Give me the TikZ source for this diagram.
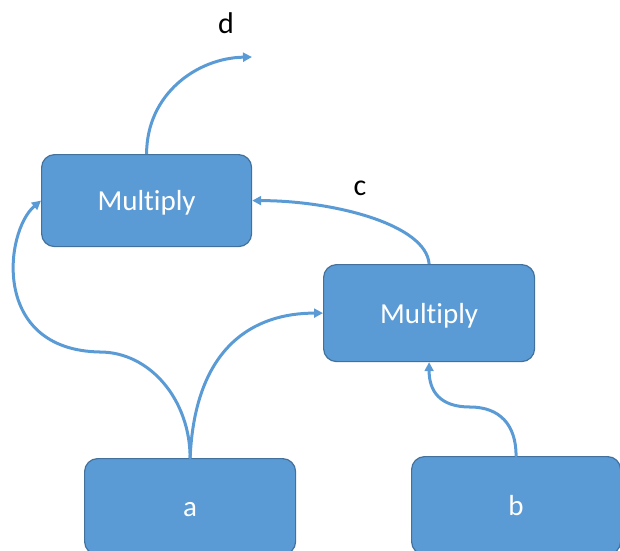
\documentclass[tikz,border=0pt]{standalone}
\usepackage{fontspec}
\setmainfont{Carlito}[Ligatures=NoCommon]
\usetikzlibrary{arrows.meta}
\definecolor{boxfill}{HTML}{5B9BD5}
\definecolor{boxline}{HTML}{41719C}
\begin{document}
\begin{tikzpicture}[x=1pt,y=-1pt,
  box/.style={draw=boxline, line width=1.2pt, fill=boxfill, rounded corners=13pt,
    text=white, font=\fontsize{29}{34}\selectfont, inner sep=0pt, anchor=north west,
    text height=22pt, text depth=2pt},
  conn/.style={draw=boxfill, line width=3pt, -{Triangle[length=9pt,width=9pt]}},
  seg/.style={draw=boxfill, line width=3pt},
  lbl/.style={font=\fontsize{30}{34}\selectfont, text=black, inner sep=0pt}]
\useasboundingbox (0,0) rectangle (620,550);
\node[box, minimum width=210pt, minimum height=92pt] (m1) at (41,154) {Multiply};
\node[box, minimum width=211pt, minimum height=97pt] (m2) at (323,264) {Multiply};
\node[box, minimum width=211pt, minimum height=96pt] (a) at (84,458) {a};
\node[box, minimum width=209pt, minimum height=98pt] (b) at (411,456) {b};
\node[lbl] (d) at (226,23) {d};
\node[lbl] (c) at (360,188) {c};
\coordinate (dend) at (252,57);
\coordinate (ka) at (100,352);
\coordinate (kb) at (470,407);
% output d
\draw[conn] (m1.north) .. controls +(0,-60) and +(-55,1) .. (dend);
% c
\draw[conn] (m2.north) .. controls +(-3,-40) and +(80,0) .. (m1.east);
% a -> m1
\draw[seg, line cap=round] (a.north) .. controls +(0,-58) and +(50,0) .. (ka);
\draw[conn] (ka) .. controls +(-110,-2) and +(-36,30) .. (m1.west);
% a -> m2
\draw[conn] (a.north) .. controls +(5,-113) and +(-68,0) .. (m2.west);
% b -> m2
\draw[seg, line cap=round] (b.north) .. controls +(0,-31) and +(30,0) .. (kb);
\draw[conn] (kb) .. controls +(-30,0) and +(0,29) .. (m2.south);
\end{tikzpicture}
\end{document}
